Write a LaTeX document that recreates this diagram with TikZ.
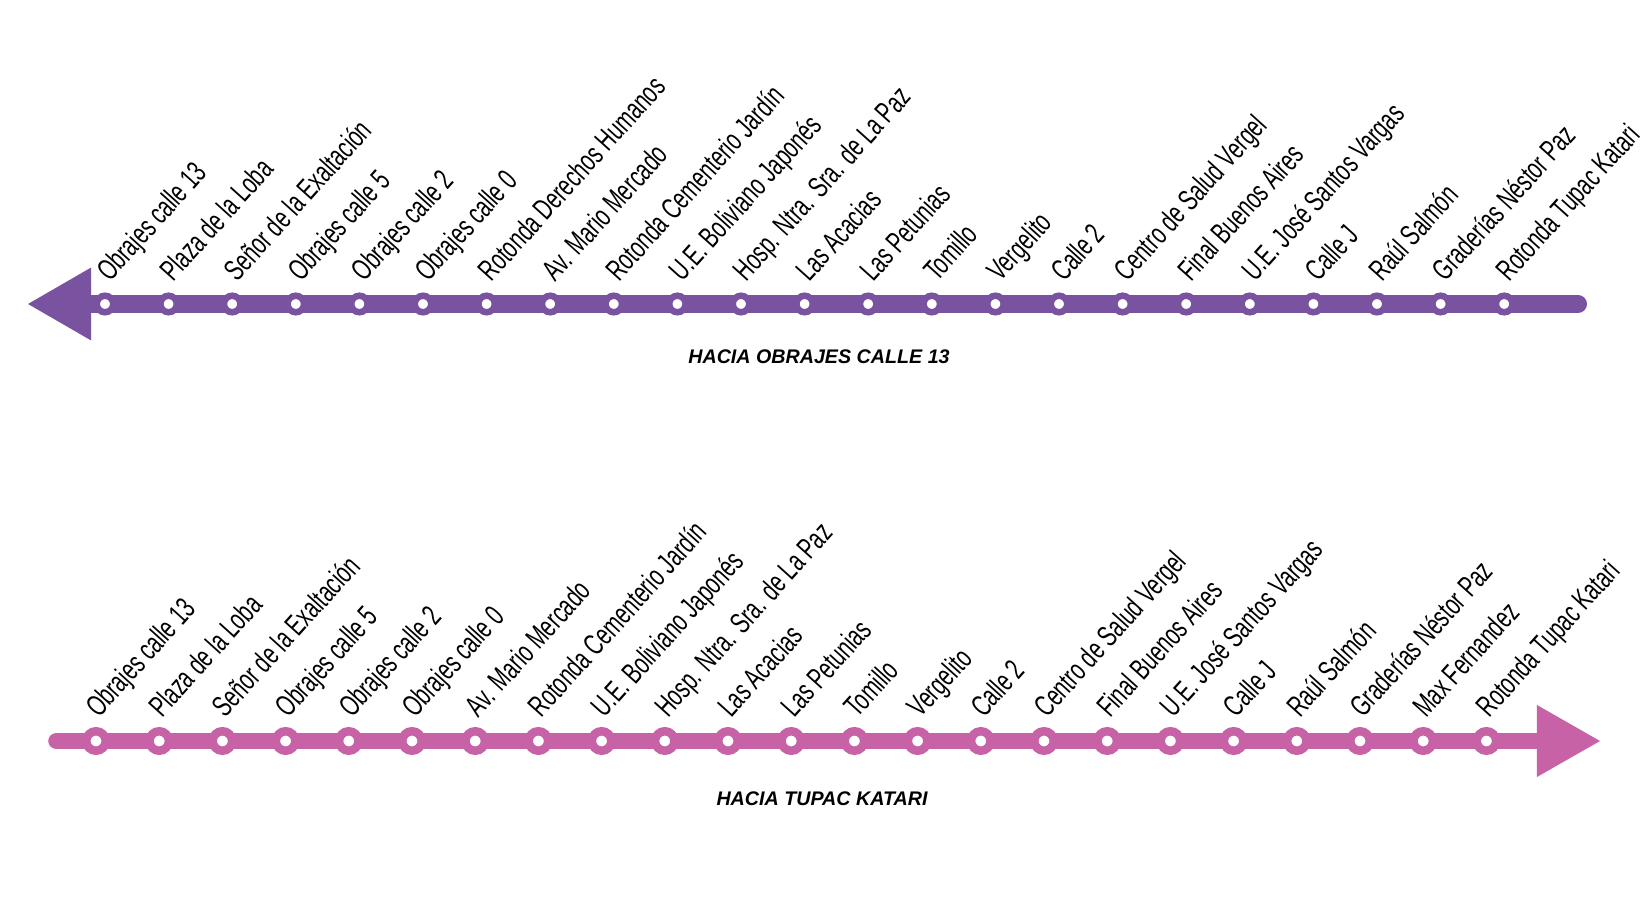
\documentclass[tikz,border=0pt]{standalone}
\usepackage{fontspec}
\setmainfont{Liberation Sans}
\newfontfamily\stopfont[FakeStretch=0.68]{Liberation Sans}
\usetikzlibrary{arrows.meta}
\definecolor{obrajes}{RGB}{121,82,160}
\definecolor{tupac}{RGB}{200,98,166}

\begin{document}
\begin{tikzpicture}[x=0.02cm,y=0.02cm,
		tstop/.style={circle,draw=obrajes,fill=white,line width=3.7pt,minimum size=9.4pt,inner sep=0pt},
		bstop/.style={circle,draw=tupac,fill=white,line width=4.84pt,minimum size=11.1pt,inner sep=0pt},
		stopname/.style={anchor=base west,rotate=48,inner sep=0pt,font=\stopfont\fontsize{17}{20}\selectfont},
		direction/.style={inner sep=0pt,font=\bfseries\itshape\fontsize{11.2}{13}\selectfont}]
			
			\useasboundingbox (0,0) rectangle (1650,916);
			
			% hacia Obrajes calle 13
			\coordinate (tR) at (1578,612);
			\coordinate (tL) at (28,612);
			\draw[obrajes,line width=10.24pt,line cap=round,-{Triangle[length=35.9pt,width=41.5pt,line width=0pt]}] (tR) -- (tL);
			
			\node[tstop] (t1) at (105,612) {};
			\node[tstop] (t2) at (168.6,612) {};
			\node[tstop] (t3) at (232.2,612) {};
			\node[tstop] (t4) at (295.8,612) {};
			\node[tstop] (t5) at (359.4,612) {};
			\node[tstop] (t6) at (423,612) {};
			\node[tstop] (t7) at (486.6,612) {};
			\node[tstop] (t8) at (550.2,612) {};
			\node[tstop] (t9) at (613.8,612) {};
			\node[tstop] (t10) at (677.4,612) {};
			\node[tstop] (t11) at (741,612) {};
			\node[tstop] (t12) at (804.6,612) {};
			\node[tstop] (t13) at (868.2,612) {};
			\node[tstop] (t14) at (931.8,612) {};
			\node[tstop] (t15) at (995.4,612) {};
			\node[tstop] (t16) at (1059,612) {};
			\node[tstop] (t17) at (1122.6,612) {};
			\node[tstop] (t18) at (1186.2,612) {};
			\node[tstop] (t19) at (1249.8,612) {};
			\node[tstop] (t20) at (1313.4,612) {};
			\node[tstop] (t21) at (1377,612) {};
			\node[tstop] (t22) at (1440.6,612) {};
			\node[tstop] (t23) at (1504.2,612) {};
			
			\node[stopname] (tn1) at ([shift={(5,21)}]t1) {Obrajes calle 13};
			\node[stopname] (tn2) at ([shift={(5,21)}]t2) {Plaza de la Loba};
			\node[stopname] (tn3) at ([shift={(5,21)}]t3) {Señor de la Exaltación};
			\node[stopname] (tn4) at ([shift={(5,21)}]t4) {Obrajes calle 5};
			\node[stopname] (tn5) at ([shift={(5,21)}]t5) {Obrajes calle 2};
			\node[stopname] (tn6) at ([shift={(5,21)}]t6) {Obrajes calle 0};
			\node[stopname] (tn7) at ([shift={(5,21)}]t7) {Rotonda Derechos Humanos};
			\node[stopname] (tn8) at ([shift={(5,21)}]t8) {Av. Mario Mercado};
			\node[stopname] (tn9) at ([shift={(5,21)}]t9) {Rotonda Cementerio Jardín};
			\node[stopname] (tn10) at ([shift={(5,21)}]t10) {U.E. Boliviano Japonés};
			\node[stopname] (tn11) at ([shift={(5,21)}]t11) {Hosp. Ntra. Sra. de La Paz};
			\node[stopname] (tn12) at ([shift={(5,21)}]t12) {Las Acacias};
			\node[stopname] (tn13) at ([shift={(5,21)}]t13) {Las Petunias};
			\node[stopname] (tn14) at ([shift={(5,21)}]t14) {Tomillo};
			\node[stopname] (tn15) at ([shift={(5,21)}]t15) {Vergelito};
			\node[stopname] (tn16) at ([shift={(5,21)}]t16) {Calle 2};
			\node[stopname] (tn17) at ([shift={(5,21)}]t17) {Centro de Salud Vergel};
			\node[stopname] (tn18) at ([shift={(5,21)}]t18) {Final Buenos Aires};
			\node[stopname] (tn19) at ([shift={(5,21)}]t19) {U.E. José Santos Vargas};
			\node[stopname] (tn20) at ([shift={(5,21)}]t20) {Calle J};
			\node[stopname] (tn21) at ([shift={(5,21)}]t21) {Raúl Salmón};
			\node[stopname] (tn22) at ([shift={(5,21)}]t22) {Graderías Néstor Paz};
			\node[stopname] (tn23) at ([shift={(5,21)}]t23) {Rotonda Tupac Katari};
			
			\node[direction] (tdir) at (819,559.5) {HACIA OBRAJES CALLE 13};
			
			% hacia Tupac Katari
			\coordinate (bL) at (56.5,175);
			\coordinate (bR) at (1600,175);
			\draw[tupac,line width=9.4pt,line cap=round,-{Triangle[length=35.9pt,width=41pt,line width=0pt]}] (bL) -- (bR);
			
			\node[bstop] (b1) at (96,175) {};
			\node[bstop] (b2) at (159.2,175) {};
			\node[bstop] (b3) at (222.4,175) {};
			\node[bstop] (b4) at (285.6,175) {};
			\node[bstop] (b5) at (348.8,175) {};
			\node[bstop] (b6) at (412,175) {};
			\node[bstop] (b7) at (475.2,175) {};
			\node[bstop] (b8) at (538.4,175) {};
			\node[bstop] (b9) at (601.6,175) {};
			\node[bstop] (b10) at (664.8,175) {};
			\node[bstop] (b11) at (728,175) {};
			\node[bstop] (b12) at (791.2,175) {};
			\node[bstop] (b13) at (854.4,175) {};
			\node[bstop] (b14) at (917.6,175) {};
			\node[bstop] (b15) at (980.8,175) {};
			\node[bstop] (b16) at (1044,175) {};
			\node[bstop] (b17) at (1107.2,175) {};
			\node[bstop] (b18) at (1170.4,175) {};
			\node[bstop] (b19) at (1233.6,175) {};
			\node[bstop] (b20) at (1296.8,175) {};
			\node[bstop] (b21) at (1360,175) {};
			\node[bstop] (b22) at (1423.2,175) {};
			\node[bstop] (b23) at (1486.4,175) {};
			
			\node[stopname] (bn1) at ([shift={(3,22)}]b1) {Obrajes calle 13};
			\node[stopname] (bn2) at ([shift={(3,22)}]b2) {Plaza de la Loba};
			\node[stopname] (bn3) at ([shift={(3,22)}]b3) {Señor de la Exaltación};
			\node[stopname] (bn4) at ([shift={(3,22)}]b4) {Obrajes calle 5};
			\node[stopname] (bn5) at ([shift={(3,22)}]b5) {Obrajes calle 2};
			\node[stopname] (bn6) at ([shift={(3,22)}]b6) {Obrajes calle 0};
			\node[stopname] (bn7) at ([shift={(3,22)}]b7) {Av. Mario Mercado};
			\node[stopname] (bn8) at ([shift={(3,22)}]b8) {Rotonda Cementerio Jardín};
			\node[stopname] (bn9) at ([shift={(3,22)}]b9) {U.E. Boliviano Japonés};
			\node[stopname] (bn10) at ([shift={(3,22)}]b10) {Hosp. Ntra. Sra. de La Paz};
			\node[stopname] (bn11) at ([shift={(3,22)}]b11) {Las Acacias};
			\node[stopname] (bn12) at ([shift={(3,22)}]b12) {Las Petunias};
			\node[stopname] (bn13) at ([shift={(3,22)}]b13) {Tomillo};
			\node[stopname] (bn14) at ([shift={(3,22)}]b14) {Vergelito};
			\node[stopname] (bn15) at ([shift={(3,22)}]b15) {Calle 2};
			\node[stopname] (bn16) at ([shift={(3,22)}]b16) {Centro de Salud Vergel};
			\node[stopname] (bn17) at ([shift={(3,22)}]b17) {Final Buenos Aires};
			\node[stopname] (bn18) at ([shift={(3,22)}]b18) {U.E. José Santos Vargas};
			\node[stopname] (bn19) at ([shift={(3,22)}]b19) {Calle J};
			\node[stopname] (bn20) at ([shift={(3,22)}]b20) {Raúl Salmón};
			\node[stopname] (bn21) at ([shift={(3,22)}]b21) {Graderías Néstor Paz};
			\node[stopname] (bn22) at ([shift={(3,22)}]b22) {Max Fernandez};
			\node[stopname] (bn23) at ([shift={(3,22)}]b23) {Rotonda Tupac Katari};
			
			\node[direction] (bdir) at (822,117) {HACIA TUPAC KATARI};
			
		\end{tikzpicture}
\end{document}
